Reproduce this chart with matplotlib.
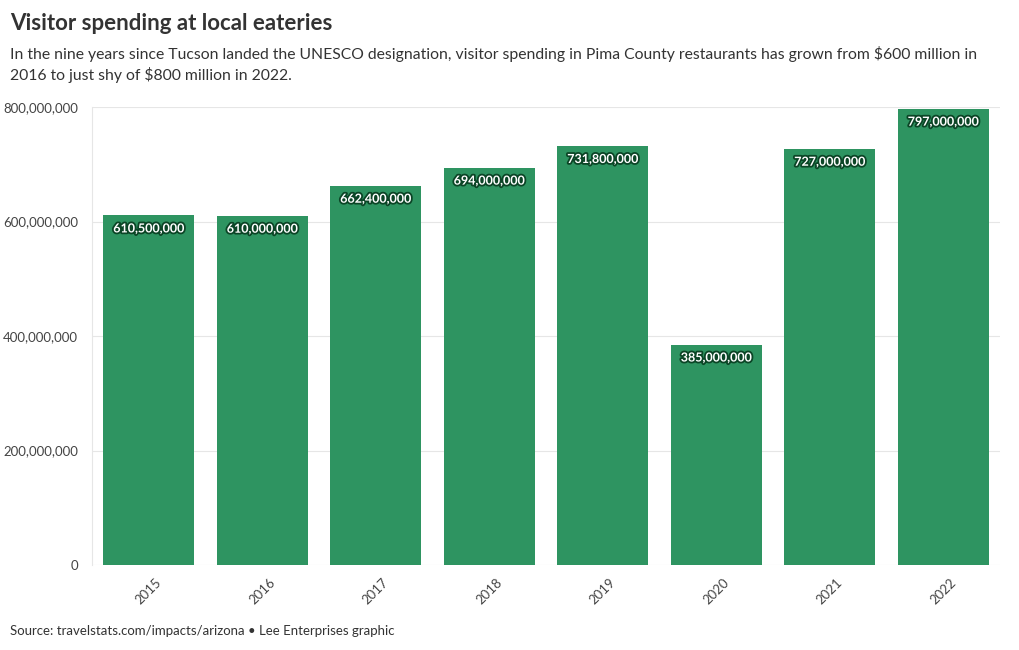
import matplotlib.pyplot as plt
import matplotlib.patheffects as pe
from matplotlib.ticker import FuncFormatter

# --- data
years = ["2015", "2016", "2017", "2018", "2019", "2020", "2021", "2022"]
spending = [610500000, 610000000, 662400000, 694000000, 731800000,
            385000000, 727000000, 797000000]
y_ticks = [0, 200000000, 400000000, 600000000, 800000000]

plt.rcParams["font.family"] = ["Lato", "DejaVu Sans"]

fig = plt.figure(figsize=(10.2, 6.5), dpi=100)
ax = fig.add_axes([92 / 1020, 1 - 565 / 650, 908 / 1020, 458 / 650])

bar_color = "#2e9461"
xs = range(len(years))
bars = ax.bar(xs, spending, width=0.8, color=bar_color, zorder=2)

# value labels just inside the top of each bar
for x, v in zip(xs, spending):
    ax.annotate(f"{v:,}", (x, v), xytext=(0, -5), textcoords="offset points",
                ha="center", va="top", color="white", fontsize=9, fontweight="bold",
                path_effects=[pe.withStroke(linewidth=2.6, foreground="#0b4526")],
                zorder=3)

ax.set_xlim(-0.5, len(years) - 0.5)
ax.set_ylim(0, 800000000)
ax.set_yticks(y_ticks)
ax.yaxis.set_major_formatter(FuncFormatter(lambda v, p: f"{int(v):,}"))
ax.set_xticks(list(xs))
ax.set_xticklabels(years, rotation=45, ha="center", va="top")

ax.grid(axis="y", color="#e6e6e6", lw=0.8, zorder=0)
for s in ["top", "right", "bottom"]:
    ax.spines[s].set_visible(False)
ax.spines["left"].set_color("#e6e6e6")
ax.tick_params(axis="both", colors="#444444", labelsize=9.5, length=0)
ax.tick_params(axis="y", pad=10)
ax.tick_params(axis="x", pad=8)

fig.text(10 / 1020, 1 - 23 / 650, "Visitor spending at local eateries",
         fontsize=16, fontweight="bold", color="#333333", va="center")
fig.text(10 / 1020, 1 - 46 / 650,
         "In the nine years since Tucson landed the UNESCO designation, visitor spending in Pima County restaurants has grown from $600 million in\n2016 to just shy of $800 million in 2022.",
         fontsize=11.35, color="#333333", va="top", linespacing=1.4)
fig.text(10 / 1020, 1 - 631 / 650,
         "Source: travelstats.com/impacts/arizona \u2022 Lee Enterprises graphic",
         fontsize=9.5, color="#333333", va="center")

fig.savefig("out.png", dpi=100)
